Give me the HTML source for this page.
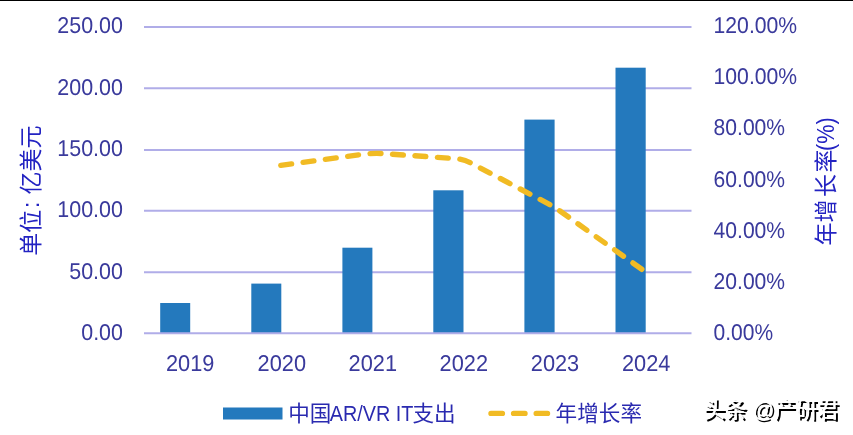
<!DOCTYPE html>
<html lang="zh-CN">
<head>
<meta charset="utf-8">
<title>中国AR/VR IT支出与年增长率</title>
<style>
  html, body { margin: 0; padding: 0; background: #ffffff; }
  body { width: 853px; height: 435px; overflow: hidden; position: relative; }
  svg { display: block; position: absolute; left: 0; top: 0; }
  text { font-family: "Liberation Sans", "Noto Sans CJK SC", sans-serif; }
  .lbl { font-size: 22.9px; text-rendering: geometricPrecision; fill: #3a3a9c; }
  .ttl { font-size: 23px; fill: #2323c2; }
  .leg { font-size: 21.6px; fill: #2a2ab0; }
  .wm  { font-size: 21.5px; font-weight: 500; fill: #000000; }
</style>
</head>
<body>
<svg width="853" height="435" viewBox="0 0 853 435">
  <rect x="0" y="0" width="853" height="435" fill="#ffffff"/>
  <!-- top border -->
  <rect x="0" y="0" width="853" height="1" fill="#000000"/>

  <!-- grid lines -->
  <g stroke="#b0ade8" stroke-width="1.9" fill="none">
    <line x1="144" y1="27"    x2="691.5" y2="27"/>
    <line x1="144" y1="88.2"  x2="691.5" y2="88.2"/>
    <line x1="144" y1="150"   x2="691.5" y2="150"/>
    <line x1="144" y1="210.8" x2="691.5" y2="210.8"/>
    <line x1="144" y1="272.3" x2="691.5" y2="272.3"/>
  </g>

  <!-- bars -->
  <g fill="#2479bd">
    <rect x="160.2" y="303"   width="30" height="30.2"/>
    <rect x="251.3" y="283.6" width="30" height="49.6"/>
    <rect x="342.4" y="247.7" width="30" height="85.5"/>
    <rect x="433.3" y="190.3" width="30.2" height="142.9"/>
    <rect x="524.4" y="119.6" width="30.2" height="213.6"/>
    <rect x="615.5" y="67.7"  width="30.2" height="265.5"/>
  </g>
  <!-- horizontal axis line (drawn over the bars) -->
  <line x1="144" y1="333.2" x2="691.5" y2="333.2" stroke="#b0ade8" stroke-width="1.9" fill="none"/>

  <!-- growth-rate line -->
  <path d="M280.8,165.4 L362,154.4 Q372,153 382,153.5 L455,158.6 Q463.4,159.2 470.5,162.8 L548,203.6 Q554.4,207 560,211 L645.6,272"
        fill="none" stroke="#f1bb24" stroke-width="5.4" stroke-linecap="round" stroke-dasharray="10.9 11.6"/>

  <!-- left axis labels -->
  <g class="lbl" text-anchor="end">
    <text x="122.9" y="33.1" textLength="65.6" lengthAdjust="spacingAndGlyphs">250.00</text>
    <text x="122.9" y="94.5" textLength="65.6" lengthAdjust="spacingAndGlyphs">200.00</text>
    <text x="122.9" y="155.8" textLength="65.6" lengthAdjust="spacingAndGlyphs">150.00</text>
    <text x="122.9" y="217.2" textLength="65.6" lengthAdjust="spacingAndGlyphs">100.00</text>
    <text x="122.9" y="278.5" textLength="53.6" lengthAdjust="spacingAndGlyphs">50.00</text>
    <text x="122.9" y="339.9" textLength="41.6" lengthAdjust="spacingAndGlyphs">0.00</text>
  </g>

  <!-- right axis labels -->
  <g class="lbl" text-anchor="start">
    <text x="713.6" y="33.2" textLength="83.5" lengthAdjust="spacingAndGlyphs">120.00%</text>
    <text x="713.6" y="84.3" textLength="83.5" lengthAdjust="spacingAndGlyphs">100.00%</text>
    <text x="713.6" y="135.4" textLength="71.5" lengthAdjust="spacingAndGlyphs">80.00%</text>
    <text x="713.6" y="186.5" textLength="71.5" lengthAdjust="spacingAndGlyphs">60.00%</text>
    <text x="713.6" y="237.6" textLength="71.5" lengthAdjust="spacingAndGlyphs">40.00%</text>
    <text x="713.6" y="288.7" textLength="71.5" lengthAdjust="spacingAndGlyphs">20.00%</text>
    <text x="713.6" y="339.8" textLength="59.5" lengthAdjust="spacingAndGlyphs">0.00%</text>
  </g>

  <!-- x axis labels -->
  <g class="lbl" text-anchor="middle">
    <text x="190.2" y="371.4" textLength="48.4" lengthAdjust="spacingAndGlyphs">2019</text>
    <text x="281.8" y="371.4" textLength="48.4" lengthAdjust="spacingAndGlyphs">2020</text>
    <text x="372.8" y="371.4" textLength="48.4" lengthAdjust="spacingAndGlyphs">2021</text>
    <text x="463.8" y="371.4" textLength="48.4" lengthAdjust="spacingAndGlyphs">2022</text>
    <text x="555" y="371.4" textLength="48.4" lengthAdjust="spacingAndGlyphs">2023</text>
    <text x="646.2" y="371.4" textLength="48.4" lengthAdjust="spacingAndGlyphs">2024</text>
  </g>

  <!-- axis titles -->
  <text class="ttl" transform="translate(39.3,189.3) rotate(-90)"><tspan x="-66.4">单位</tspan><tspan x="-18.8">: </tspan><tspan x="-5.1">亿美元</tspan></text>
  <text class="ttl" transform="translate(833.8,179) rotate(-90)"><tspan x="-66.4">年增</tspan><tspan x="-17.9">长</tspan><tspan x="6.6">率</tspan><tspan x="28.1" textLength="33.7" lengthAdjust="spacingAndGlyphs">(%)</tspan></text>

  <!-- legend -->
  <rect x="223" y="407.5" width="59.5" height="12" fill="#2479bd"/>
  <text class="leg" y="421"><tspan x="288.2">中国</tspan><tspan x="329.8" textLength="83.6" lengthAdjust="spacingAndGlyphs">AR/VR IT</tspan><tspan x="412.4">支出</tspan></text>
  <line x1="491" y1="413.4" x2="547.5" y2="413.4" stroke="#f1bb24" stroke-width="5.4" stroke-linecap="round" stroke-dasharray="11.4 11.2"/>
  <text class="leg" x="555.6" y="421">年增长率</text>

  <!-- watermark -->
  <defs>
    <filter id="wmf" x="-5%" y="-30%" width="110%" height="160%">
      <feFlood flood-color="#ffffff" result="w"/>
      <feComposite in="w" in2="SourceAlpha" operator="in" result="wt"/>
      <feOffset in="wt" dx="-2" dy="-2" result="wo"/>
      <feMerge><feMergeNode in="SourceGraphic"/><feMergeNode in="wo"/></feMerge>
    </filter>
  </defs>
  <text class="wm" x="705.4" y="419.2" filter="url(#wmf)">头条 @产研君</text>
</svg>
</body>
</html>
